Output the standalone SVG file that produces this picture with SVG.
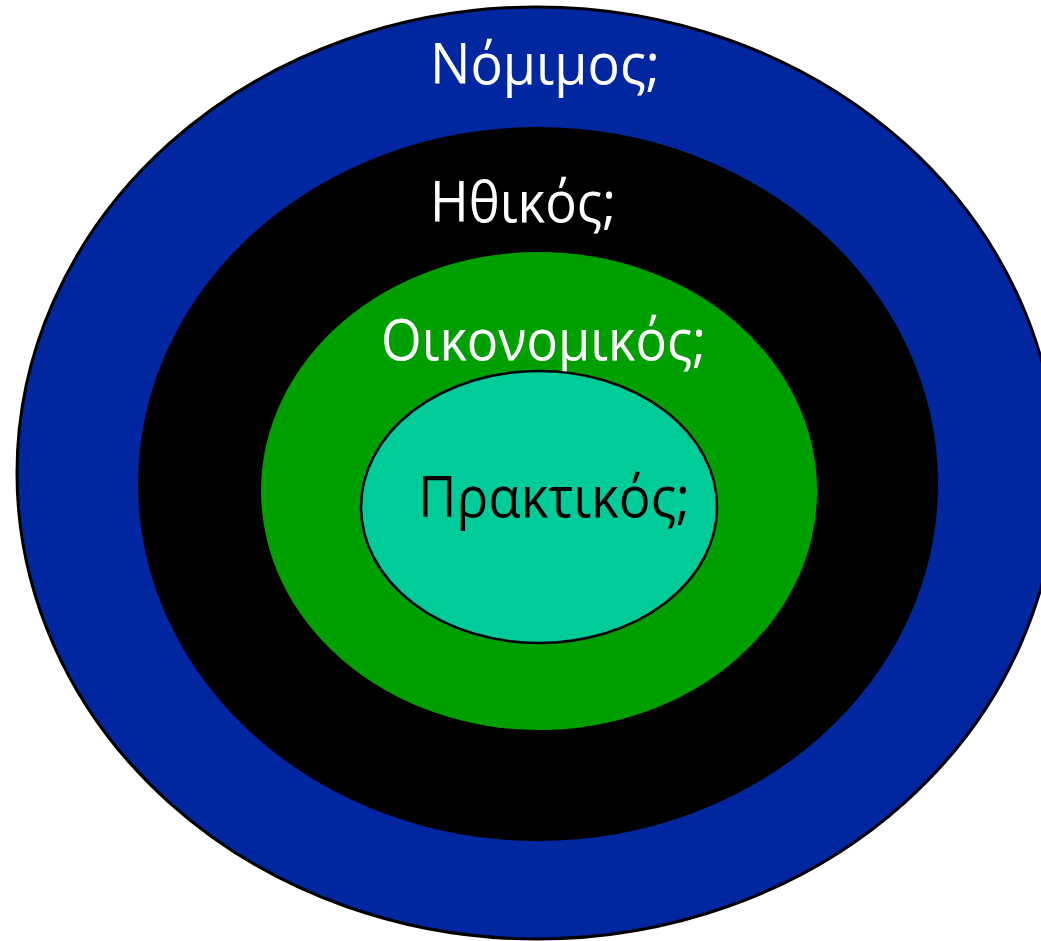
<svg xmlns="http://www.w3.org/2000/svg" width="1041" height="941" viewBox="0 0 1041 941">
<style>
.lbl{font-family:"Open Sans","Noto Sans","DejaVu Sans",sans-serif;font-size:57px}
.w{fill:#ffffff}
.k{fill:#000000}
</style>
<rect width="1041" height="941" fill="#ffffff"/>
<g id="legal">
<ellipse cx="537" cy="473" rx="520" ry="466" fill="#0026a0" stroke="#000" stroke-width="3"/>
<text class="lbl w" x="430" y="84" textLength="230" lengthAdjust="spacingAndGlyphs">Νόμιμος;</text>
</g>
<g id="ethical">
<ellipse cx="538" cy="484" rx="400" ry="357" fill="#000000"/>
<text class="lbl w" x="430" y="222" textLength="186" lengthAdjust="spacingAndGlyphs">Ηθικός;</text>
</g>
<g id="economic">
<ellipse cx="539" cy="491" rx="278" ry="239" fill="#009f00"/>
<text class="lbl w" x="381" y="360" textLength="325" lengthAdjust="spacingAndGlyphs">Οικονομικός;</text>
</g>
<g id="practical">
<ellipse cx="539" cy="507" rx="178" ry="136" fill="#00cc99" stroke="#000" stroke-width="2.5"/>
<text class="lbl k" x="418" y="517" textLength="272" lengthAdjust="spacingAndGlyphs">Πρακτικός;</text>
</g>
<g id="connectors"/>
</svg>
